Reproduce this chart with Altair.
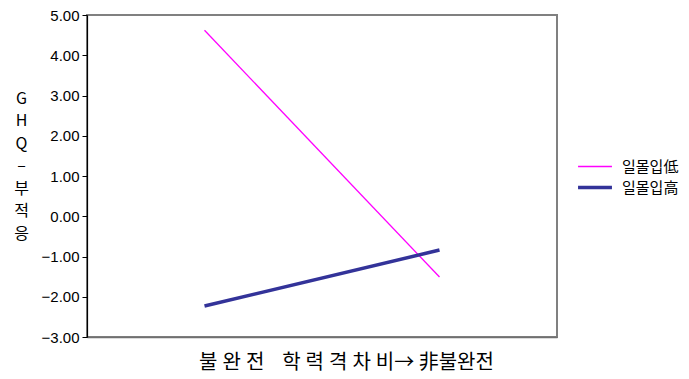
import altair as alt
import pandas as pd

x_cats = ["불완전", "非불완전"]
groups = ["일몰입低", "일몰입高"]
low_vals = [4.62, -1.51]
high_vals = [-2.23, -0.84]
y_ticks = [5, 4, 3, 2, 1, 0, -1, -2, -3]
y_title = ["G", "H", "Q", "–", "부", "적", "응"]
sp = "\u2005"
x_title = sp.join("불완전") + "\u00a0\u00a0\u00a0\u00a0" + sp.join("학력격차비") + "→\u00a0非불완전"

rows = []
for g, vals in zip(groups, [low_vals, high_vals]):
    for c, v in zip(x_cats, vals):
        rows.append({"cond": c, "group": g, "value": v})
df = pd.DataFrame(rows)

KR = "Noto Sans CJK KR"

legend_opts = dict(
    title=None, orient="none", legendX=489, legendY=143,
    symbolType="stroke", symbolSize=1150, clipHeight=17,
    labelFont=KR, labelFontSize=15, labelColor="#000000",
    labelOffset=8, rowPadding=4,
)

chart = alt.Chart(df).mark_line().encode(
    x=alt.X(
        "cond:N",
        sort=x_cats,
        scale=alt.Scale(type="point", padding=0.5),
        axis=alt.Axis(
            title=x_title, labels=False, ticks=False,
            domainColor="#707070", domainWidth=1.5,
            titleFont=KR, titleFontSize=20, titleFontWeight="normal",
            titleColor="#000000", titleX=259, titleY=25,
            titleBaseline="middle", titleAlign="center",
        ),
    ),
    y=alt.Y(
        "value:Q",
        scale=alt.Scale(domain=[-3, 5], nice=False, zero=False),
        axis=alt.Axis(
            values=y_ticks, format=".2f", grid=False,
            domainColor="#000000", domainWidth=1.2,
            tickColor="#000000", tickSize=5, tickWidth=1,
            labelFont="Liberation Sans", labelFontSize=15, labelColor="#000000",
            labelPadding=3,
            title=y_title, titleAngle=0, titleFont=KR, titleFontSize=16,
            titleFontWeight="normal", titleColor="#000000",
            titleLineHeight=22.5, titleAlign="center", titleBaseline="top",
            titleX=-66, titleY=75,
        ),
    ),
    color=alt.Color(
        "group:N", sort=groups,
        scale=alt.Scale(domain=groups, range=["#FF00FF", "#333399"]),
        legend=alt.Legend(**legend_opts),
    ),
    strokeWidth=alt.StrokeWidth(
        "group:N", sort=groups,
        scale=alt.Scale(domain=groups, range=[1.3, 3.5]),
        legend=alt.Legend(**legend_opts),
    ),
).properties(
    width=470, height=322,
    autosize=alt.AutoSizeParams(type="none"),
    padding={"left": 79, "top": 7, "right": 124, "bottom": 40},
    background="white",
).configure_view(stroke="#808080", strokeWidth=2)

chart.save("out.html", embed_options={"renderer": "svg", "actions": False})
